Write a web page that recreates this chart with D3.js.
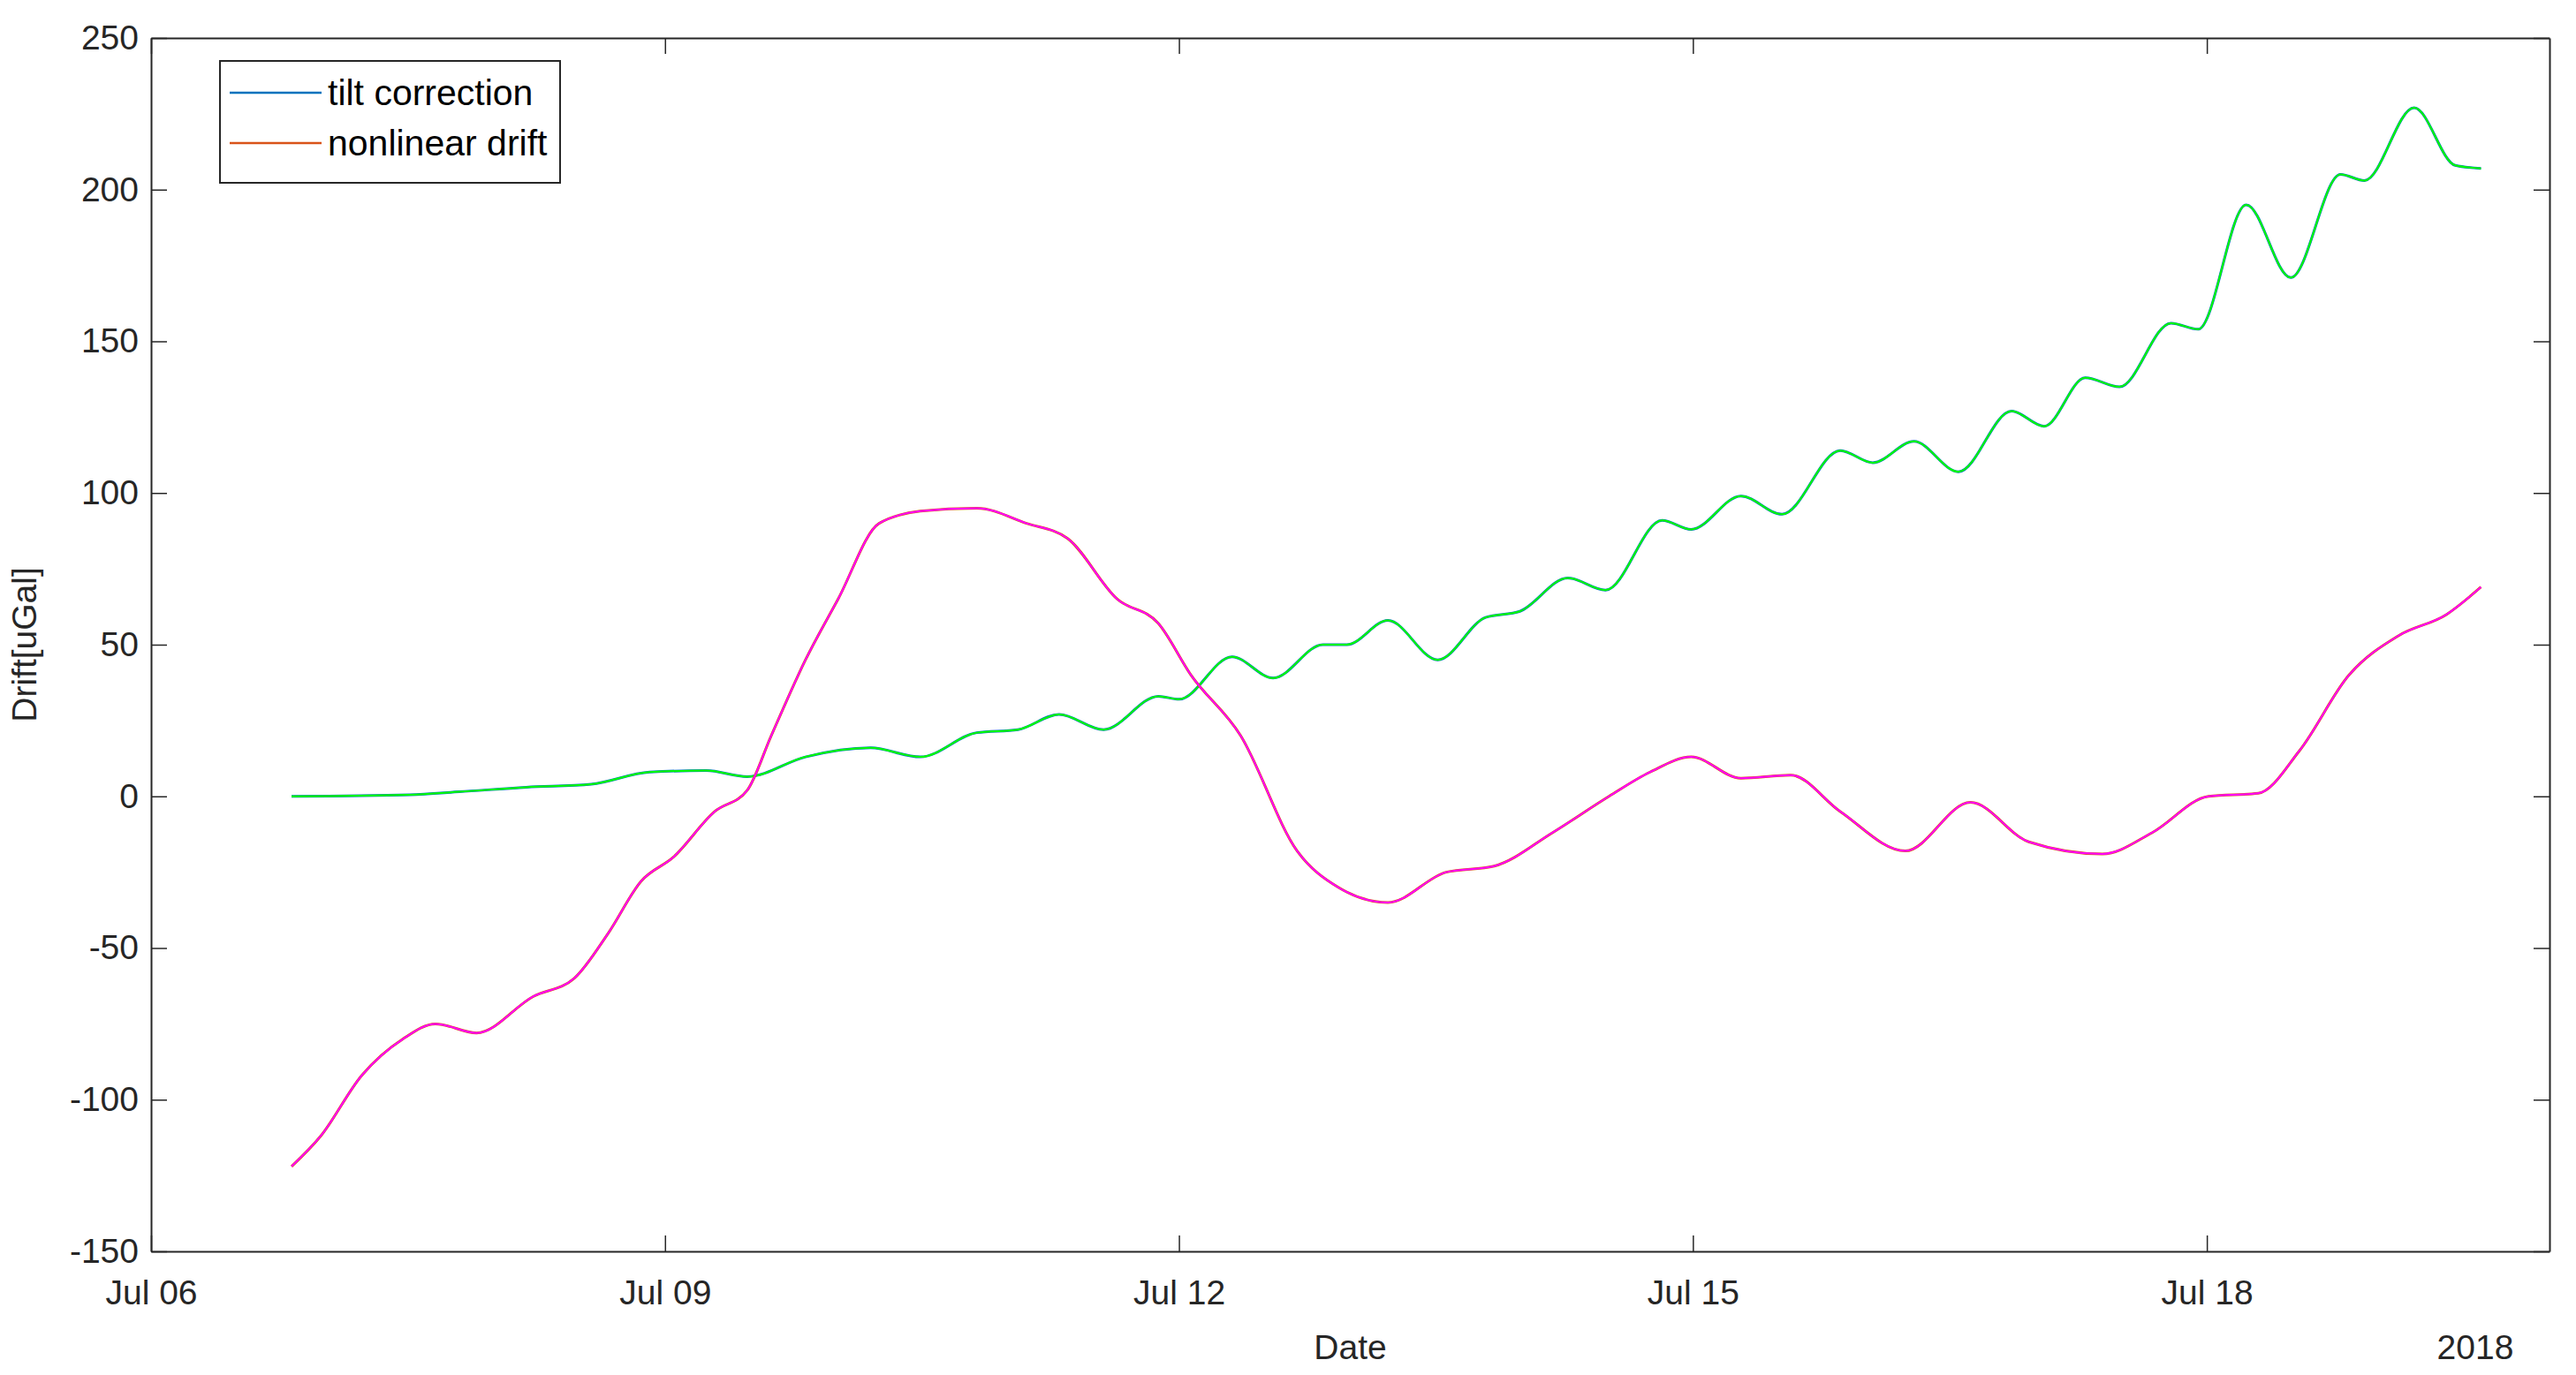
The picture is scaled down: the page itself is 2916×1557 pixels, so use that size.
<!DOCTYPE html>
<html>
<head>
<meta charset="utf-8">
<script src="https://cdn.jsdelivr.net/npm/d3@7"></script>
<style>
  body { margin: 0; background: #fff; }
  text { font-family: "Liberation Sans", Arial, sans-serif; }
</style>
</head>
<body>
<div id="chart"></div>
<script>
const svgWidth = 2916;
const svgHeight = 1557;

const margin = { top: 43, right: 30, bottom: 140, left: 171 };
const width = svgWidth - margin.left - margin.right;
const height = svgHeight - margin.top - margin.bottom;

// days since Jul 06 2018 00:00
const tiltDays = [0.82, 1.51, 1.80, 2.19, 2.57, 2.91, 3.24, 3.48, 3.82, 4.20, 4.49, 4.82, 5.06, 5.30, 5.56, 5.88, 6.00, 6.31, 6.55, 6.84, 6.98, 7.22, 7.51, 7.79, 7.99, 8.27, 8.49, 8.82, 8.99, 9.28, 9.52, 9.86, 10.05, 10.29, 10.55, 10.86, 11.05, 11.29, 11.49, 11.79, 11.95, 12.23, 12.49, 12.78, 12.92, 13.21, 13.45, 13.60];
const tiltValues = [0, 0.5, 1.5, 3, 4, 8, 8.5, 6.5, 13, 16, 13, 21, 22, 27, 22, 33, 32, 46, 39, 50, 50, 58, 45, 59, 61, 72, 68, 91, 88, 99, 93, 114, 110, 117, 107, 127, 122, 138, 135, 156, 154, 195, 171, 205, 203, 227, 208, 207];

const driftDays = [0.82, 0.99, 1.23, 1.47, 1.66, 1.90, 2.23, 2.47, 2.67, 2.86, 3.05, 3.29, 3.48, 3.62, 3.82, 4.01, 4.25, 4.49, 4.82, 5.11, 5.35, 5.64, 5.88, 6.07, 6.36, 6.69, 6.93, 7.22, 7.56, 7.84, 8.18, 8.51, 8.75, 8.99, 9.28, 9.57, 9.86, 10.24, 10.62, 10.96, 11.39, 11.68, 12.01, 12.30, 12.54, 12.83, 13.12, 13.40, 13.60];
const driftValues = [-122, -112, -92, -80, -75, -78, -66, -60, -45, -28, -20, -5, 2, 20, 45, 65, 90, 94, 95, 90, 85, 65, 57, 40, 20, -18, -30, -35, -25, -23, -12, 0, 8, 13, 6, 7, -5, -18, -2, -15, -19, -12, 0, 1, 15, 40, 53, 60, 69];

const yTicks = [-150, -100, -50, 0, 50, 100, 150, 200, 250];
const seriesNames = ["tilt correction", "nonlinear drift"];

const start = new Date(2018, 6, 6);
const toDate = d => new Date(start.getTime() + d * 864e5);
const xTicks = [0, 3, 6, 9, 12].map(toDate);

const svg = d3.select("#chart").append("svg")
  .attr("width", svgWidth)
  .attr("height", svgHeight);

const chartGroup = svg.append("g")
  .attr("transform", `translate(${margin.left}, ${margin.top})`);

const x = d3.scaleTime().domain([toDate(0), toDate(14)]).range([0, width]);
const y = d3.scaleLinear().domain([-150, 250]).range([height, 0]);

const fontSize = 39;
const tickLen = 18;

function styleAxis(g) {
  g.selectAll("path").attr("stroke", "#262626").attr("stroke-width", 2);
  g.selectAll("line").attr("stroke", "#262626").attr("stroke-width", 1.5);
  g.selectAll("text").attr("font-size", fontSize).attr("fill", "#262626")
    .attr("font-family", "Liberation Sans, Arial, sans-serif");
}

// bottom / left axes with labels, top / right mirrors without
chartGroup.append("g")
  .attr("transform", `translate(0, ${height})`)
  .call(d3.axisBottom(x).tickValues(xTicks).tickFormat(d3.timeFormat("%b %d"))
    .tickSizeInner(-tickLen).tickSizeOuter(0).tickPadding(32))
  .call(styleAxis);

chartGroup.append("g")
  .call(d3.axisTop(x).tickValues(xTicks).tickFormat("")
    .tickSizeInner(-tickLen).tickSizeOuter(0))
  .call(styleAxis);

chartGroup.append("g")
  .call(d3.axisLeft(y).tickValues(yTicks).tickFormat(d3.format("d"))
    .tickSizeInner(-tickLen).tickSizeOuter(0).tickPadding(14))
  .call(styleAxis)
  .selectAll("text").text(d => d < 0 ? "-" + Math.abs(d) : d);

chartGroup.append("g")
  .attr("transform", `translate(${width}, 0)`)
  .call(d3.axisRight(y).tickValues(yTicks).tickFormat("")
    .tickSizeInner(-tickLen).tickSizeOuter(0))
  .call(styleAxis);

// lines: base colour, then bright overlay
const line = d3.line()
  .x(d => x(toDate(d[0])))
  .y(d => y(d[1]))
  .curve(d3.curveMonotoneX);

const tilt = d3.zip(tiltDays, tiltValues);
const drift = d3.zip(driftDays, driftValues);

[[tilt, "#0072BD", "#00FF00"], [drift, "#D95319", "#FF00FF"]].forEach(([data, base, top]) => {
  chartGroup.append("path").datum(data)
    .attr("fill", "none").attr("stroke", base).attr("stroke-width", 3)
    .attr("d", line);
  chartGroup.append("path").datum(data)
    .attr("fill", "none").attr("stroke", top).attr("stroke-width", 2)
    .attr("d", line);
});

// legend
const legend = chartGroup.append("g").attr("transform", "translate(78, 26)");
legend.append("rect")
  .attr("width", 385).attr("height", 138)
  .attr("fill", "#fff").attr("stroke", "#262626").attr("stroke-width", 2);
const legendColors = ["#0072BD", "#D95319"];
seriesNames.forEach((name, i) => {
  const row = legend.append("g").attr("transform", `translate(0, ${36 + i * 57})`);
  row.append("line").attr("x1", 11).attr("x2", 115).attr("y1", 0).attr("y2", 0)
    .attr("stroke", legendColors[i]).attr("stroke-width", 2.5);
  row.append("text").attr("x", 122).attr("y", 14)
    .attr("font-size", 41).attr("fill", "#000").text(name);
});

// axis titles
chartGroup.append("text")
  .attr("x", width / 2).attr("y", height + 122)
  .attr("text-anchor", "middle").attr("font-size", fontSize).attr("fill", "#262626")
  .text("Date");

chartGroup.append("text")
  .attr("x", width - 84).attr("y", height + 122)
  .attr("text-anchor", "middle").attr("font-size", fontSize).attr("fill", "#262626")
  .text("2018");

chartGroup.append("text")
  .attr("transform", "rotate(-90)")
  .attr("x", -height / 2).attr("y", -130)
  .attr("text-anchor", "middle").attr("font-size", fontSize).attr("fill", "#262626")
  .text("Drift[uGal]");
</script>
</body>
</html>
